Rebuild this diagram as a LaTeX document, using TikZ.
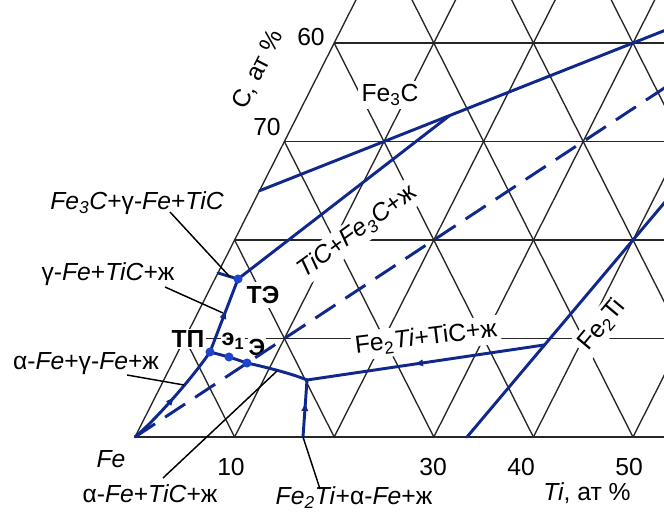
\documentclass[tikz,border=0pt]{standalone}
\usepackage{fontspec}
\setmainfont{Liberation Sans}
\usetikzlibrary{arrows.meta,decorations.markings}
\definecolor{bcol}{RGB}{16,40,140}
\definecolor{dcol}{RGB}{28,70,205}
\newcommand\lsub[1]{\textsubscript{#1}}
\begin{document}
\begin{tikzpicture}[x=0.75pt,y=-0.75pt,
  grid/.style={line width=1pt,draw=black!85},
  bl/.style={line width=2.2pt,color=bcol,line cap=round,line join=round},
  lead/.style={line width=1.1pt,draw=black},
  lbl/.style={font=\fontsize{18.5}{20}\selectfont,inner sep=1pt},
  bld/.style={font=\bfseries\fontsize{18.5}{20}\selectfont,inner sep=1pt},
  sml/.style={font=\bfseries\fontsize{17.5}{19}\selectfont,inner sep=0.5pt},
  mask/.style={fill=white,inner sep=2.5pt},
  midarrow/.style={postaction={decorate},decoration={markings,mark=at position #1 with {\arrow{Latex[length=7pt,width=5.5pt]}}}}]
\fill[white] (0,0) rectangle (664,520);
\useasboundingbox (0,0) rectangle (664,520);
% ---------- grid ----------
\begin{scope}
\clip (0,0) rectangle (664,520);
\begin{scope}[shift={(135,437)},x={(7.47pt,0pt)},y={(3.735pt,7.3875pt)}]
  \draw[grid] (0,0) -- (70,0);
  \draw[grid] (0,0) -- (0,60);
  \foreach \k in {10,20,30,40} \draw[grid] (0,\k) -- (70,\k);
  \foreach \k in {10,20,...,60} \draw[grid] (\k,0) -- (\k,60);
  \foreach \s in {10,20,...,70} \draw[grid] (0,\s) -- (\s,0);
\end{scope}
\end{scope}
% ---------- labels that cover the grid ----------
\node[lbl,mask] (fe3c) at (390,95) {Fe\lsub{3}C};
\node[lbl,mask,rotate=36] (f7) at (357,232) {\textit{TiC}+\textit{Fe\lsub{3}C}+ж};
\node[lbl,mask,rotate=7] (f6) at (426,338) {Fe\lsub{2}\textit{Ti}+TiC+ж};
\node[lbl,mask,rotate=50] (fe2ti) at (602,325) {Fe\lsub{2}Ti};
\node[bld,fill=white,inner sep=3pt] (te) at (263,295) {ТЭ};
\node[bld,fill=white] (tp) at (188,339) {ТП};
\node[sml,fill=white] (e1) at (233,341) {э\lsub{1}};
\node[sml,fill=white] (ee) at (257,347) {Э};
% ---------- points ----------
\coordinate (Fe) at (135,437);
\coordinate (TP) at (210,352);
\coordinate (TE) at (238,279);
\coordinate (E1) at (229,357);
\coordinate (E) at (247,363);
\coordinate (J) at (307,380);
\coordinate (K) at (544,345);
\coordinate (B) at (303,437);
\coordinate (TEl) at (218,273);
\coordinate (M) at (449,116);
% ---------- blue lines ----------
\begin{scope}
\clip (0,0) rectangle (664,520);
\begin{scope}[shift={(135,437)},x={(7.47pt,0pt)},y={(3.735pt,7.3875pt)}]
  \coordinate (Fe3Cpt) at (0,25);
  \coordinate (TiCpt) at (50,50);
  \coordinate (Fe2Tipt) at (33.333,0);
  \coordinate (FeTiC) at (40,40);
  \draw[bl] (Fe3Cpt) -- (TiCpt);
  \draw[bl] (Fe2Tipt) -- (TiCpt);
  \draw[bl,line cap=butt,dash pattern=on 18pt off 9pt] (Fe) -- (FeTiC);
\end{scope}
\end{scope}
\draw[bl] (TE) -- (M);
\draw[bl] (TE) -- (TEl);
\draw[bl,midarrow=0.5] (Fe) .. controls (150,425) and (188,384) .. (TP);
\draw[bl,midarrow=0.58] (TP) -- (TE);
\draw[bl] (TP) -- (E1) -- (E) .. controls (265,367) and (290,373) .. (J);
\draw[bl,midarrow=0.55] (K) -- (J);
\draw[bl,midarrow=0.62] (B) -- (J);
\foreach \p in {TE,TP,E1,E} \fill[dcol] (\p) circle (3.4pt);
% ---------- other labels ----------
\node[lbl,rotate=63] (cax) at (258,70) {C, ат \%};
\node[lbl] (l60) at (311,37) {60};
\node[lbl] (l70) at (267,127) {70};
\node[lbl] (f1) at (137,203) {\textit{Fe\lsub{3}C}+γ-\textit{Fe}+\textit{TiC}};
\node[lbl] (f2) at (108,274) {γ-\textit{Fe}+\textit{TiC}+ж};
\node[lbl] (f3) at (86,364) {α-\textit{Fe}+γ-\textit{Fe}+ж};
\node[lbl] (fe) at (111,459) {\textit{Fe}};
\node[lbl] (t10) at (231,467) {10};
\node[lbl] (t30) at (433,467) {30};
\node[lbl] (t40) at (521,467) {40};
\node[lbl] (t50) at (629,467) {50};
\node[lbl] (f4) at (150,494) {α-\textit{Fe}+\textit{TiC}+ж};
\node[lbl] (f5) at (354,498) {\textit{Fe\lsub{2}Ti}+α-\textit{Fe}+ж};
\node[lbl] (tiax) at (587,493) {\textit{Ti}, ат \%};
% ---------- leaders ----------
\coordinate (a1) at (170,212); \coordinate (a1e) at (230,277);
\coordinate (a2) at (165,287); \coordinate (a2e) at (223,313);
\coordinate (a3) at (127,375); \coordinate (a3e) at (184,385);
\coordinate (a4) at (163,478); \coordinate (a4e) at (277,371);
\coordinate (a5) at (320,489);
\draw[lead] (a1) -- (a1e);
\draw[lead] (a2) -- (a2e);
\draw[lead] (a3) -- (a3e);
\draw[lead] (a4) -- (a4e);
\draw[lead] (a5) -- (B);
\end{tikzpicture}
\end{document}
